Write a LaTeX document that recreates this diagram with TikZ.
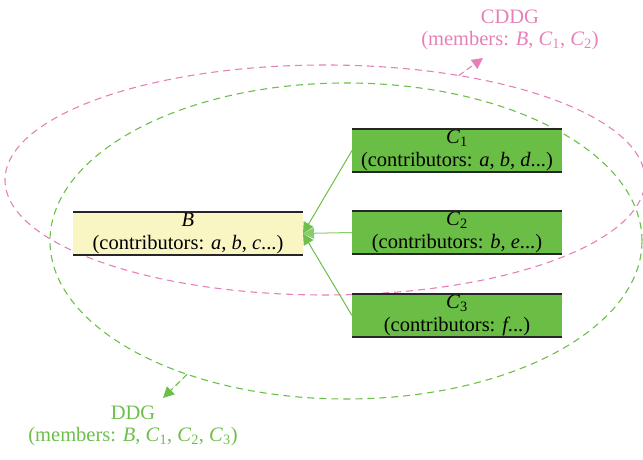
\documentclass[tikz,border=0pt]{standalone}
\usepackage{fontspec}
\setmainfont{Liberation Serif}
\usetikzlibrary{arrows.meta,shapes.geometric}

\definecolor{cddgpink}{RGB}{230,128,184}
\definecolor{ddggreen}{RGB}{108,191,74}
\definecolor{childgreen}{RGB}{106,189,69}
\definecolor{parentyellow}{RGB}{250,246,196}

\newcommand{\ctr}[1]{\textit{#1}}

\begin{document}
\begin{tikzpicture}[
      x=1pt, y=1pt,
      font=\fontsize{20.5}{22.5}\selectfont,
      classbox/.style ={rectangle, fill=#1, inner sep=0, outer sep=0,
                        minimum height=43, align=center},
      classbox/.default=childgreen,
      rule/.style ={draw=black!85, line width=1.3pt},
      group/.style ={ellipse, draw=#1, inner sep=0, outer sep=0,
                     line width=1.1pt, dash pattern=on 7pt off 5pt},
      grouptag/.style ={text=#1, align=center},
      member/.style ={-{Triangle[length=11pt,width=11pt]}, draw=ddggreen, line width=1pt},
      pointer/.style ={-{Triangle[length=11pt,width=11pt]}, draw=#1, fill=#1,
                       line width=1.1pt, dash pattern=on 6pt off 4pt}]
    \useasboundingbox (0,0) rectangle (643,460);

    \node[group=cddgpink, minimum width=640, minimum height=230] (cddg) at (325,280) {};
    \node[group=ddggreen, minimum width=592, minimum height=316] (ddg) at (346,219) {};

    \node[classbox=parentyellow, minimum width=230] (B) at (188,226.5)
      {\ctr{B}\\(contributors: \ctr{a}, \ctr{b}, \ctr{c}...)};
    \node[classbox, minimum width=210] (C1) at (457,309.5)
      {\ctr{C}\textsubscript{1}\\(contributors: \ctr{a}, \ctr{b}, \ctr{d}...)};
    \node[classbox, minimum width=210] (C2) at (457,227.5)
      {\ctr{C}\textsubscript{2}\\(contributors: \ctr{b}, \ctr{e}...)};
    \node[classbox, minimum width=210] (C3) at (457,144.5)
      {\ctr{C}\textsubscript{3}\\(contributors: \ctr{f}...)};
    \foreach \n in {B,C1,C2,C3}
      \draw[rule] (\n.north west) -- (\n.north east) (\n.south west) -- (\n.south east);

    \draw[member] (C1.west) -- (B.east);
    \draw[member, draw=ddggreen!80] (C2.west) -- (B.east);
    \draw[member] (C3.west) -- (B.east);

    \node[grouptag=cddgpink] (cddgtag) at (510,430)
      {CDDG\\(members: \ctr{B}, \ctr{C}\textsubscript{1}, \ctr{C}\textsubscript{2})};
    \node[grouptag=ddggreen] (ddgtag) at (133,34)
      {DDG\\(members: \ctr{B}, \ctr{C}\textsubscript{1}, \ctr{C}\textsubscript{2}, \ctr{C}\textsubscript{3})};
    \coordinate (cddgtip) at (483,402);
    \coordinate (ddgtip) at (163,62);

    \draw[pointer=cddgpink] (cddg.38) -- (cddgtip);
    \draw[pointer=ddggreen] (ddg.220.7) -- (ddgtip);
\end{tikzpicture}
\end{document}
